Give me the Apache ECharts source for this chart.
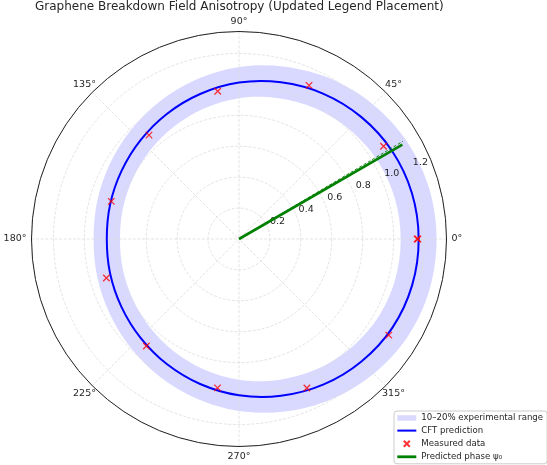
<!DOCTYPE html>
<html>
<head>
<meta charset="utf-8">
<script src="https://cdn.jsdelivr.net/npm/echarts@6/dist/echarts.min.js"></script>
<style>html,body{margin:0;padding:0;background:#fff;}#c{width:547px;height:465px;}</style>
</head>
<body>
<div id="c"></div>
<script>
// ---- data ----
const titleText = 'Graphene Breakdown Field Anisotropy (Updated Legend Placement)';
const angleTicksAxial = [0, 90, 180, 270];
const angleTicksDiagonal = [45, 135, 225, 315];
const radiusTicks = [0.2, 0.4, 0.6, 0.8, 1.0, 1.2];
const radiusMax = 1.342;

// CFT prediction curve (angle in degrees, normalized breakdown field)
const curveAngles = [0,15,30,45,60,75,90,105,120,135,150,165,180,195,210,225,240,255,270,285,300,315,330,345,360];
const curveValues = [1.162,1.157,1.142,1.117,1.086,1.049,1.012,0.971,0.934,0.902,0.878,0.863,0.855,0.863,0.878,0.902,0.934,0.971,1.011,1.050,1.088,1.120,1.146,1.159,1.162];

// experimental range band: 10% below / above the prediction
const bandLow = 0.9;
const bandHigh = 1.1;

// measured data
const measAngles = [0, 32.7, 65.5, 98.2, 130.9, 163.6, 196.4, 229.1, 261.8, 294.5, 327.3, 360];
const measValues = [1.157, 1.111, 1.092, 0.965, 0.889, 0.861, 0.894, 0.915, 0.973, 1.059, 1.151, 1.152];

// predicted phase psi0
const phaseAngles = [30, 30];
const phaseValues = [0, 1.22];
// thin dashed reference line
const refAngles = [30.8, 30.8];
const refValues = [0, 1.235];

const names = ['10–20% experimental range', 'CFT prediction', 'Measured data', 'Predicted phase ψ₀'];

const FONT = 'DejaVu Sans';
const chart = echarts.init(document.getElementById('c'), null, {renderer: 'canvas'});

const curveData = curveAngles.map((a, i) => [curveValues[i], a]);
const measData = measAngles.map((a, i) => [measValues[i], a]);

// closed Catmull-Rom path through pixel points (rendering helper only)
function closedPath(pts, reverse) {
  const p = reverse ? pts.slice().reverse() : pts;
  const n = p.length;
  let d = 'M' + p[0][0] + ' ' + p[0][1];
  for (let i = 0; i < n; i++) {
    const p0 = p[(i - 1 + n) % n], p1 = p[i], p2 = p[(i + 1) % n], p3 = p[(i + 2) % n];
    const c1 = [p1[0] + (p2[0] - p0[0]) / 6, p1[1] + (p2[1] - p0[1]) / 6];
    const c2 = [p2[0] - (p3[0] - p1[0]) / 6, p2[1] - (p3[1] - p1[1]) / 6];
    d += 'C' + c1[0] + ' ' + c1[1] + ' ' + c2[0] + ' ' + c2[1] + ' ' + p2[0] + ' ' + p2[1];
  }
  return d + 'Z';
}
function ringPoints(api, factor) {
  const pts = [];
  for (let i = 0; i < curveAngles.length - 1; i++) {
    pts.push(api.coord([curveValues[i] * factor, curveAngles[i]]));
  }
  return pts;
}

const gridLine = {color: '#dcdcdc', width: 0.8, type: [3, 1.6]};
const labelFont = {fontFamily: FONT, fontSize: 9.5, color: '#262626'};
const hiddenAngle = (idx, start) => ({
  polarIndex: idx, type: 'value', min: 0, max: 360, interval: 45, startAngle: start, clockwise: false,
  axisLine: {show: false}, axisTick: {show: false}, axisLabel: {show: false}, splitLine: {show: false}
});
const hiddenRadius = idx => ({
  polarIndex: idx, type: 'value', min: 0, max: radiusMax, interval: 0.2,
  axisLine: {show: false}, axisTick: {show: false}, axisLabel: {show: false}, splitLine: {show: false}
});

// diagonal angle labels: square label boxes so their centres sit on the diagonals
const diagAngleAxis = hiddenAngle(2, 0);
diagAngleAxis.axisLabel = Object.assign({
  show: true, margin: -5.2,
  formatter: v => angleTicksDiagonal.indexOf(v) < 0 ? '' : (v >= 100 ? '{w|' + v + '°}' : '{n|' + v + '°}'),
  rich: {
    w: Object.assign({lineHeight: 23, padding: [0, 0, 0, 0]}, labelFont),
    n: Object.assign({lineHeight: 23, padding: [0, 3.05, 0, 3.05]}, labelFont)
  }
}, labelFont);

const labelRadiusAxis = hiddenRadius(1);
labelRadiusAxis.axisLabel = Object.assign({
  show: true, margin: 0, align: 'center', verticalAlign: 'middle',
  formatter: v => {
    const hit = radiusTicks.find(t => Math.abs(t - v) < 1e-6);
    return hit !== undefined ? hit.toFixed(1) : '';
  }
}, labelFont);

const option = {
  animation: false,
  backgroundColor: '#ffffff',
  title: {
    text: titleText,
    left: 35, top: 1, padding: 0,
    textStyle: {fontFamily: FONT, fontSize: 12, fontWeight: 'normal', color: '#262626'}
  },
  polar: [
    {center: [239, 239], radius: 207.5},
    {center: [249, 233.2], radius: 207.5},
    {center: [239, 239], radius: 207.5}
  ],
  angleAxis: [
    {
      polarIndex: 0, type: 'value', min: 0, max: 360, interval: 45,
      startAngle: 0, clockwise: false,
      axisLine: {show: true, lineStyle: {color: '#222', width: 1}},
      axisTick: {show: false},
      axisLabel: Object.assign({
        margin: 5,
        formatter: v => angleTicksAxial.indexOf(v) >= 0 ? v + '°' : ''
      }, labelFont),
      splitLine: {show: true, lineStyle: gridLine}
    },
    hiddenAngle(1, 22.5),
    diagAngleAxis
  ],
  radiusAxis: [
    {
      polarIndex: 0, type: 'value', min: 0, max: radiusMax, interval: 0.2,
      axisLine: {show: false}, axisTick: {show: false}, axisLabel: {show: false},
      splitLine: {show: true, lineStyle: gridLine}
    },
    labelRadiusAxis,
    hiddenRadius(2)
  ],
  legend: {
    left: 394, top: 411,
    orient: 'vertical',
    itemWidth: 19, itemHeight: 6, itemGap: 2.6,
    padding: [2, 4, 2, 3.3],
    backgroundColor: 'rgba(255,255,255,0.85)',
    borderColor: '#cccccc', borderWidth: 1, borderRadius: 3,
    textStyle: {fontFamily: FONT, fontSize: 8.6, color: '#262626', lineHeight: 10},
    data: [
      {name: names[0], icon: 'path://M0,0H19V5.5H0Z', itemStyle: {color: 'rgba(0,0,255,0.15)'}},
      {name: names[1], icon: 'path://M0,0H19V2H0Z', itemStyle: {color: '#0000ff'}},
      {name: names[2]},
      {name: names[3], icon: 'path://M0,0H19V2.8H0Z', itemStyle: {color: '#008000'}}
    ]
  },
  series: [
    {
      name: names[0], type: 'custom', coordinateSystem: 'polar', polarIndex: 0,
      z: -1, silent: true,
      itemStyle: {color: 'rgba(0,0,255,0.15)'},
      data: curveData,
      renderItem: function (params, api) {
        if (params.dataIndex !== 0) return null;
        const d = closedPath(ringPoints(api, bandHigh), false) + closedPath(ringPoints(api, bandLow), true);
        return {type: 'path', shape: {pathData: d}, style: {fill: 'rgba(0,0,255,0.15)', stroke: null}};
      }
    },
    {
      name: names[1], type: 'custom', coordinateSystem: 'polar', polarIndex: 0,
      z: 3, silent: true,
      itemStyle: {color: '#0000ff'},
      data: curveData,
      renderItem: function (params, api) {
        if (params.dataIndex !== 0) return null;
        return {type: 'path', shape: {pathData: closedPath(ringPoints(api, 1), false)},
                style: {fill: null, stroke: '#0000ff', lineWidth: 2}};
      }
    },
    {
      name: 'reference', type: 'custom', coordinateSystem: 'polar', polarIndex: 0,
      z: 3, silent: true,
      data: refAngles.map((a, i) => [refValues[i], a]),
      renderItem: function (params, api) {
        if (params.dataIndex !== 0) return null;
        const p0 = api.coord([refValues[0], refAngles[0]]);
        const p1 = api.coord([refValues[1], refAngles[1]]);
        return {type: 'line', shape: {x1: p0[0], y1: p0[1], x2: p1[0], y2: p1[1]},
                style: {stroke: '#008000', lineWidth: 0.9, lineDash: [3, 2]}};
      }
    },
    {
      name: names[3], type: 'custom', coordinateSystem: 'polar', polarIndex: 0,
      z: 4, silent: true,
      itemStyle: {color: '#008000'},
      data: phaseAngles.map((a, i) => [phaseValues[i], a]),
      renderItem: function (params, api) {
        if (params.dataIndex !== 0) return null;
        const p0 = api.coord([phaseValues[0], phaseAngles[0]]);
        const p1 = api.coord([phaseValues[1], phaseAngles[1]]);
        return {type: 'line', shape: {x1: p0[0], y1: p0[1], x2: p1[0], y2: p1[1]},
                style: {stroke: '#008000', lineWidth: 2.6, lineCap: 'butt'}};
      }
    },
    {
      name: names[2], type: 'scatter', coordinateSystem: 'polar', polarIndex: 0,
      data: measData,
      symbol: 'path://M0,0L10,10M10,0L0,10', symbolSize: 6.5,
      itemStyle: {color: 'none', borderColor: '#ff0000', borderWidth: 1.3},
      z: 5
    }
  ]
};
chart.setOption(option);
</script>
</body>
</html>
